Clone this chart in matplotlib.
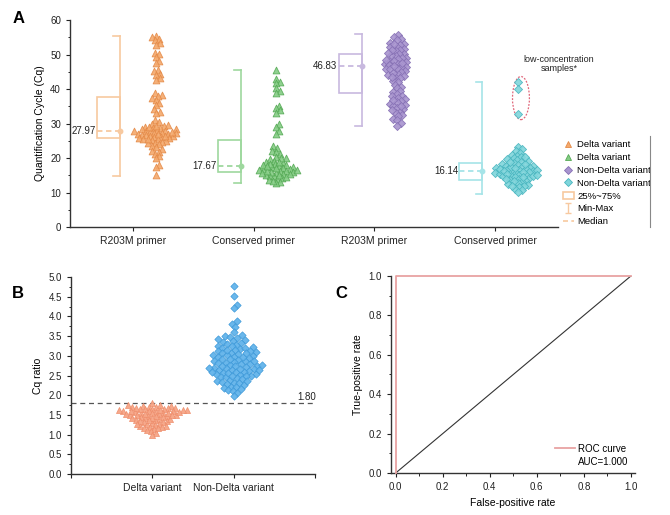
import numpy as np
import matplotlib
matplotlib.use('Agg')
import matplotlib.pyplot as plt
from matplotlib.patches import Rectangle, Ellipse, Patch
from matplotlib.lines import Line2D
from matplotlib.ticker import MultipleLocator, FormatStrFormatter

plt.rcParams['font.family'] = ['Liberation Sans', 'DejaVu Sans']

# ---- Panel A data (Cq values) ----
a_categories = ['R203M primer', 'Conserved primer', 'R203M primer', 'Conserved primer']
a_labels = ['Delta variant', 'Delta variant', 'Non-Delta variant', 'Non-Delta variant']

cq_delta_r203m = [55.5, 55.0, 54.6, 54.1, 53.4, 52.9, 50.6, 50.1, 49.3, 48.2, 47.5,
                  45.6, 45.1, 44.4, 44.0, 43.1, 42.6, 38.8, 38.2, 37.9, 37.3, 36.9,
                  36.1, 35.4, 34.2, 33.5, 33.1, 31.1, 30.4, 29.9, 29.6, 29.2, 29.1,
                  28.8, 28.6, 28.3, 28.1, 28.0, 27.9, 27.8, 27.6, 27.4, 27.3, 27.1,
                  27.0, 26.8, 26.7, 26.5, 26.4, 26.2, 26.1, 25.9, 25.8, 25.6, 25.4,
                  25.2, 25.0, 24.8, 24.5, 24.3, 24.0, 23.5, 23.2, 22.7, 22.2, 21.9,
                  21.3, 20.7, 20.1, 18.0, 17.3, 15.0, 28.4, 27.2, 26.9, 26.3, 25.5,
                  29.4, 28.9, 27.7]
cq_delta_cons = [45.5, 43.0, 42.2, 41.7, 40.3, 39.4, 38.9, 35.1, 34.4, 33.9, 33.2,
                 30.0, 29.1, 27.9, 27.0, 23.4, 22.9, 22.2, 21.7, 21.1, 20.4, 20.0,
                 19.7, 19.3, 18.8, 18.6, 18.2, 17.9, 17.8, 17.5, 17.3, 17.1, 16.9,
                 16.8, 16.5, 16.3, 16.2, 15.9, 15.8, 15.5, 15.3, 15.2, 14.9, 14.7,
                 14.3, 14.0, 13.6, 13.2, 12.8, 19.9, 18.0, 16.6, 16.0, 15.6, 17.0,
                 18.4, 16.4, 15.1, 17.6, 19.0, 14.5, 13.4]
cq_non_r203m = [55.6, 55.0, 54.4, 54.2, 53.5, 53.1, 52.9, 52.3, 52.1, 51.5, 51.3,
                50.9, 50.3, 50.1, 49.7, 49.1, 48.9, 48.7, 48.2, 48.0, 47.8, 47.3,
                47.2, 46.9, 46.4, 46.3, 45.8, 45.7, 45.2, 45.0, 44.7, 44.1, 43.9,
                43.3, 43.1, 42.4, 42.1, 41.3, 40.7, 40.3, 39.5, 39.1, 38.7, 38.1,
                37.9, 37.5, 37.1, 36.5, 36.3, 35.7, 35.5, 35.0, 34.6, 34.1, 33.4,
                33.1, 32.4, 32.1, 31.3, 30.9, 30.1, 29.4, 47.6, 46.1, 44.8, 49.8,
                51.4, 53.0, 43.6, 36.8, 35.2, 33.8, 48.4, 50.6, 46.7]
cq_non_cons = [42.0, 40.0, 32.7, 23.2, 22.5, 22.1, 21.6, 21.0, 20.7, 20.2, 19.9,
               19.4, 19.2, 18.8, 18.6, 18.4, 18.0, 17.8, 17.7, 17.4, 17.2, 17.1,
               16.8, 16.7, 16.5, 16.3, 16.1, 16.0, 15.8, 15.6, 15.5, 15.2, 15.1,
               14.9, 14.7, 14.5, 14.2, 14.0, 13.7, 13.4, 13.1, 12.8, 12.4, 12.2,
               11.8, 11.5, 11.0, 10.7, 10.2, 18.2, 17.5, 16.9, 16.2, 15.4, 14.8,
               19.6, 18.9, 17.0, 15.9, 14.4, 13.9, 20.4, 16.6, 15.0, 13.3, 12.0]
a_values = [cq_delta_r203m, cq_delta_cons, cq_non_r203m, cq_non_cons]

# box statistics as drawn (min, q1, median, q3, max)
a_min = [14.9, 12.7, 29.4, 9.6]
a_q1 = [25.7, 16.1, 38.9, 13.6]
a_median = [27.97, 17.67, 46.83, 16.14]
a_q3 = [37.6, 25.2, 50.1, 18.5]
a_max = [55.4, 45.5, 56.0, 42.1]

# ---- Panel B data ----
b_categories = ['Delta variant', 'Non-Delta variant']
ratio_delta = [1.80, 1.75, 1.73, 1.72, 1.70, 1.69, 1.68, 1.67, 1.66, 1.65, 1.64,
               1.63, 1.62, 1.61, 1.60, 1.59, 1.58, 1.57, 1.56, 1.55, 1.54, 1.53,
               1.52, 1.51, 1.50, 1.49, 1.48, 1.46, 1.45, 1.44, 1.42, 1.41, 1.39,
               1.38, 1.36, 1.35, 1.33, 1.31, 1.30, 1.28, 1.26, 1.25, 1.23, 1.21,
               1.19, 1.17, 1.15, 1.12, 1.08, 1.03, 0.98, 1.71, 1.66, 1.62, 1.58,
               1.53, 1.47, 1.40, 1.34, 1.27, 1.20, 1.63, 1.56, 1.68, 1.74, 1.50,
               1.43, 1.60, 1.37, 1.16]
ratio_non = [4.78, 4.53, 4.30, 4.22, 3.88, 3.82, 3.72, 3.60, 3.52, 3.50, 3.48,
             3.45, 3.42, 3.40, 3.38, 3.35, 3.33, 3.30, 3.28, 3.26, 3.24, 3.22,
             3.20, 3.18, 3.15, 3.13, 3.10, 3.08, 3.06, 3.05, 3.03, 3.00, 2.98,
             2.96, 2.95, 2.93, 2.90, 2.88, 2.86, 2.85, 2.83, 2.80, 2.78, 2.77,
             2.75, 2.73, 2.72, 2.70, 2.68, 2.67, 2.65, 2.64, 2.62, 2.60, 2.58,
             2.57, 2.55, 2.53, 2.52, 2.50, 2.48, 2.46, 2.45, 2.43, 2.40, 2.38,
             2.36, 2.34, 2.32, 2.30, 2.28, 2.25, 2.22, 2.20, 2.18, 2.15, 2.12,
             2.10, 2.05, 1.97, 3.02, 2.92, 2.81, 2.69, 2.63, 2.56, 3.11, 3.21,
             2.97, 2.74, 2.66, 3.07, 2.87, 2.59, 3.16, 2.76, 2.49, 2.35]
b_threshold = 1.80

# ---- Panel C data ----
fpr = [0.0, 0.0, 1.0]
tpr = [0.0, 1.0, 1.0]
auc = 1.000

# styles
box_colors = ['#F7C9A0', '#9ED89E', '#C8B9DF', '#A6E4E8']
face_colors = ['#F4A96C', '#84CC84', '#A894CF', '#80D5DB']
edge_colors = ['#E48A48', '#55A955', '#8670B4', '#48B5BF']
markers = ['^', '^', 'D', 'D']
sizes = [24, 24, 17, 17]


def swarm_x(ax, center, values, dist):
    # simple beeswarm in pixel space
    values = np.asarray(values, float)
    xy = np.column_stack([np.full(len(values), center), values])
    px = ax.transData.transform(xy)
    c_px = px[0, 0]
    y_px = px[:, 1]
    off = np.zeros(len(values))
    placed = []
    for i in np.argsort(y_px):
        y = y_px[i]
        near = [(qx, qy) for qx, qy in placed if abs(qy - y) < dist]
        cands = [0.0]
        for qx, qy in near:
            dx = np.sqrt(dist ** 2 - (qy - y) ** 2)
            cands += [qx + dx, qx - dx]
        cands.sort(key=abs)
        for cx in cands:
            if all((cx - qx) ** 2 + (y - qy) ** 2 >= dist ** 2 - 1e-6 for qx, qy in near):
                break
        off[i] = cx
        placed.append((cx, y))
    back = ax.transData.inverted().transform(np.column_stack([c_px + off, y_px]))
    return back[:, 0]


def style_axes(ax):
    ax.spines['top'].set_visible(False)
    ax.spines['right'].set_visible(False)
    for s in ['left', 'bottom']:
        ax.spines[s].set_color('#333333')
        ax.spines[s].set_linewidth(1.0)
    ax.tick_params(direction='out', length=3, width=0.8, labelsize=7, colors='#222222')
    ax.tick_params(which='minor', direction='out', length=1.8, width=0.6)


fig = plt.figure(figsize=(6.7, 5.15), dpi=100)

# ================= Panel A =================
axA = fig.add_axes([0.1045, 0.559, 0.728, 0.402])
axA.set_xlim(0.48, 4.52)
axA.set_ylim(0, 60)
style_axes(axA)
axA.yaxis.set_major_locator(MultipleLocator(10))
axA.yaxis.set_minor_locator(MultipleLocator(5))
axA.set_xticks(range(1, 5))
axA.set_xticklabels(a_categories, fontsize=7.5)
axA.set_ylabel('Quantification Cycle (Cq)', fontsize=7.5)

box_w = 0.19
for i in range(4):
    pos = i + 1
    right = pos - 0.105
    left = right - box_w
    c = box_colors[i]
    axA.add_patch(Rectangle((left, a_q1[i]), box_w, a_q3[i] - a_q1[i], fill=False,
                            ec=c, lw=1.2))
    axA.plot([right, right], [a_min[i], a_max[i]], color=c, lw=1.2)
    for v in (a_min[i], a_max[i]):
        axA.plot([right - 0.055, right], [v, v], color=c, lw=1.2)
    axA.plot([left, right], [a_median[i], a_median[i]], color=c, lw=1.3, ls=(0, (3, 2)))
    axA.plot(right, a_median[i], 'o', ms=3.2, color=c)
    axA.text(left - 0.01, a_median[i], f'{a_median[i]:.2f}', ha='right', va='center',
             fontsize=7, color='#222222')
    xs = swarm_x(axA, pos + 0.19, a_values[i], 4.2)
    axA.scatter(xs, a_values[i], marker=markers[i], s=sizes[i], fc=face_colors[i],
                ec=edge_colors[i], lw=0.6, alpha=0.9, zorder=3)

# low-concentration samples
axA.add_patch(Ellipse((4.215, 37.4), 0.14, 12.5, fill=False, ec='#E0677A', lw=0.9,
                      ls=(0, (1.5, 1.2))))
axA.text(4.53, 44.6, 'low-concentration\nsamples*', ha='center', va='bottom',
         fontsize=6.5, color='#222222', linespacing=1.0)

handles = [Line2D([], [], ls='none', marker=markers[i], ms=4.5, mfc=face_colors[i],
                  mec=edge_colors[i], mew=0.6) for i in range(4)]
handles.append(Patch(fc='none', ec=box_colors[0], lw=1.2))
eb = axA.errorbar([np.nan], [np.nan], yerr=[1], fmt='none', ecolor=box_colors[0],
                  capsize=2.5, elinewidth=1.0)
handles.append(eb)
handles.append(Line2D([], [], color=box_colors[0], lw=1.2, ls=(0, (3, 2))))
labels = a_labels + ['25%~75%', 'Min-Max', 'Median']
leg = axA.legend(handles, labels, loc='upper left', bbox_to_anchor=(0.837, 0.731),
                 bbox_transform=fig.transFigure, fontsize=6.8, frameon=False,
                 handlelength=1.2, labelspacing=0.4, borderpad=0.2,
                 handletextpad=0.35, borderaxespad=0)
# legend right border only, like the reference
fig.add_artist(Line2D([650 / 670, 650 / 670], [1 - 136 / 515, 1 - 227 / 515],
                      color='#888888', lw=0.8))

# ================= Panel B =================
axB = fig.add_axes([0.106, 0.0796, 0.364, 0.3825])
axB.set_xlim(0, 3)
axB.set_ylim(0, 5)
style_axes(axB)
axB.yaxis.set_major_locator(MultipleLocator(0.5))
axB.yaxis.set_minor_locator(MultipleLocator(0.25))
axB.yaxis.set_major_formatter(FormatStrFormatter('%.1f'))
axB.set_xticks([0, 1, 2, 3])
axB.set_xticklabels(['', b_categories[0], b_categories[1], ''], fontsize=7.5)
axB.set_ylabel('Cq ratio', fontsize=7.5)
axB.axhline(b_threshold, color='#555555', lw=0.9, ls=(0, (4, 3)))
axB.text(2.9, b_threshold + 0.04, f'{b_threshold:.2f}', ha='center', va='bottom',
         fontsize=7, color='#222222')
xs = swarm_x(axB, 1, ratio_delta, 4.1)
axB.scatter(xs, ratio_delta, marker='^', s=19, fc='#F6A586', ec='#EE8C6A', lw=0.5,
            alpha=0.95, zorder=3)
xs = swarm_x(axB, 2, ratio_non, 5.0)
axB.scatter(xs, ratio_non, marker='D', s=14, fc='#62B3EA', ec='#3C98D8', lw=0.5,
            alpha=0.95, zorder=3)

# ================= Panel C =================
axC = fig.add_axes([0.5836, 0.0816, 0.364, 0.3825])
axC.set_xlim(-0.02, 1.017)
axC.set_ylim(0, 1.0)
style_axes(axC)
for a in (axC.xaxis, axC.yaxis):
    a.set_major_locator(MultipleLocator(0.2))
    a.set_minor_locator(MultipleLocator(0.1))
    a.set_major_formatter(FormatStrFormatter('%.1f'))
axC.set_xlabel('False-positive rate', fontsize=7.5)
axC.set_ylabel('True-positive rate', fontsize=7.5)
axC.plot([0, 1], [0, 1], color='#333333', lw=0.8)
roc, = axC.plot(fpr, tpr, color='#E8A3A3', lw=1.3, clip_on=False, zorder=4)
axC.legend([roc, Line2D([], [], ls='none')], ['ROC curve', f'AUC={auc:.3f}'],
           loc='lower right', frameon=False, fontsize=7, handlelength=2.0,
           labelspacing=0.3, borderaxespad=0.25, handletextpad=0.35)

# panel letters
for txt, x, y in [('A', 0.027, 0.965), ('B', 0.027, 0.43), ('C', 0.51, 0.43)]:
    fig.text(x, y, txt, fontsize=12, fontweight='bold', ha='center', va='center')

fig.savefig('out.png', dpi=100)
